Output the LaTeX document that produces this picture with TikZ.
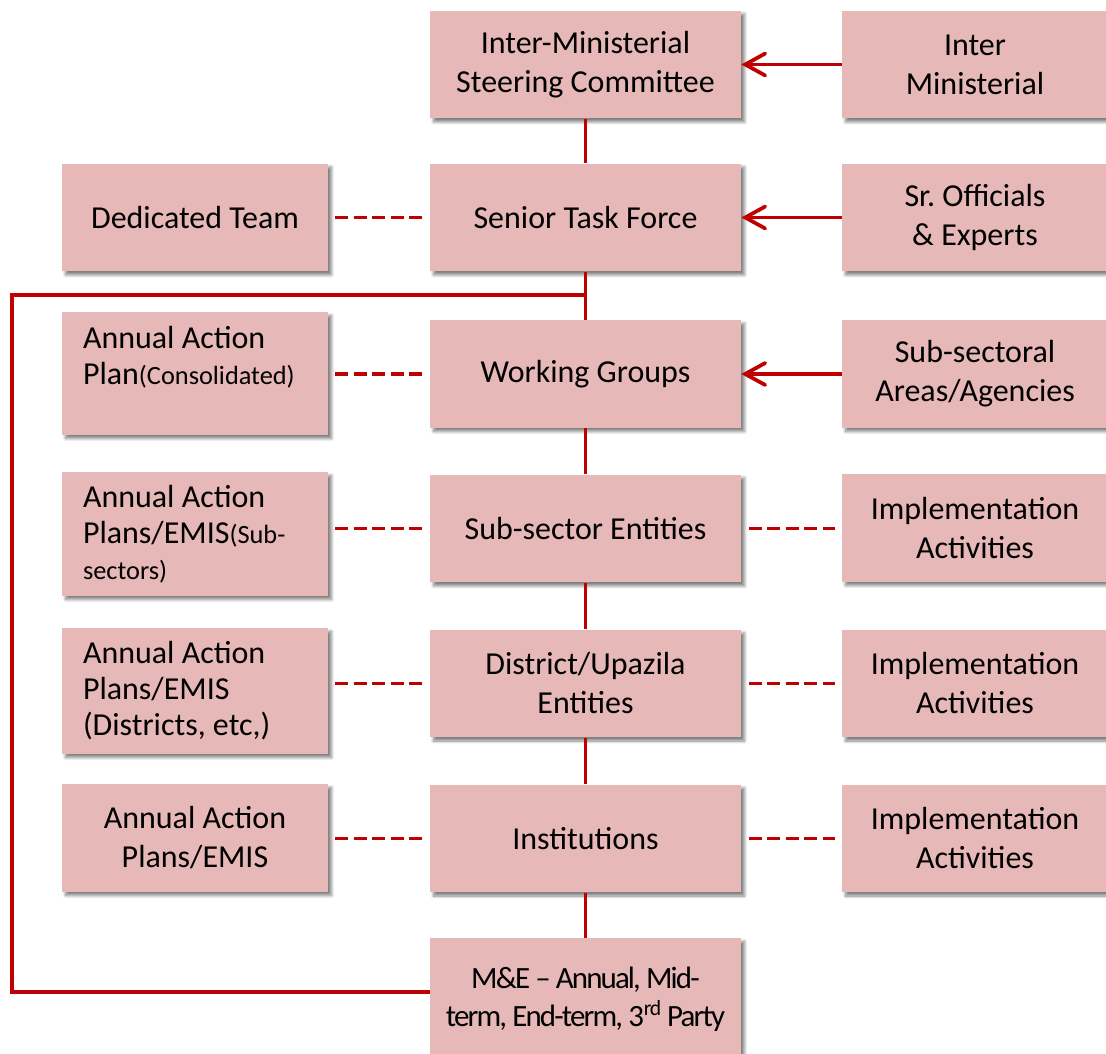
\documentclass[tikz,border=0pt]{standalone}
\usepackage{fontspec}
\setmainfont{Carlito}
\usetikzlibrary{arrows.meta,shadows.blur}
\definecolor{boxpink}{HTML}{E6B8B7}
\definecolor{linkred}{HTML}{C00000}
\newcommand{\bigtxt}{\fontsize{18.2}{22.2}\selectfont}
\newcommand{\plantxt}{\fontsize{18.2}{20.5}\selectfont}
\newcommand{\smalltxt}{\fontsize{15}{20.5}\selectfont}
\newcommand{\metxt}{\fontsize{17.6}{21.6}\selectfont\addfontfeature{LetterSpace=-6}}

\begin{document}
\begin{tikzpicture}[
    x=0.02cm, y=-0.02cm,
    box/.style={fill=boxpink, inner sep=0pt, align=center, font=\bigtxt,
      blur shadow={shadow xshift=0.07cm, shadow yshift=-0.07cm,
        shadow blur radius=0.06cm, shadow blur steps=6, shadow opacity=50}},
    mid/.style={box, minimum width=6.22cm, minimum height=2.16cm},
    side/.style={box, minimum width=5.32cm, minimum height=2.16cm},
    plan/.style={box, text width=4.48cm, inner xsep=0.42cm, align=flush left, font=\plantxt},
    link/.style={draw=linkred, line width=0.075cm},
    dashlink/.style={link, dash pattern=on 0.26cm off 0.11cm,
      shorten <=0.15cm, shorten >=0.14cm},
    feed/.style={link, -{Straight Barb[length=0.4cm, width=0.44cm, line cap=round]}},
    ]
    \useasboundingbox (0,0) rectangle (1106,1054);
    % centre column
    \node[mid] (imsc) at (585.5,64.5) {Inter-Ministerial\\Steering Committee};
    \node[mid] (stf) at (585.5,217.5) {Senior Task Force};
    \node[mid] (wg) at (585.5,374) {Working Groups};
    \node[mid] (sse) at (585.5,528.5) {Sub-sector Entities};
    \node[mid] (due) at (585.5,683.5) {District/Upazila\\Entities};
    \node[mid] (inst) at (585.5,838.5) {Institutions};
    \node[mid, minimum height=2.44cm, font=\metxt] (mne) at (585.5,999)
      {M\&E -- Annual, Mid-\\term, End-term, 3\textsuperscript{rd} Party};
    % right column
    \node[side] (imin) at (975,64.5) {Inter\\Ministerial};
    \node[side] (soe) at (975,217.5) {Sr.\ Officials\\\& Experts};
    \node[side] (ssa) at (975,374) {Sub-sectoral\\Areas/Agencies};
    \node[side] (ia1) at (975,528) {Implementation\\Activities};
    \node[side] (ia2) at (975,683.5) {Implementation\\Activities};
    \node[side] (ia3) at (975,838.5) {Implementation\\Activities};
    % left column
    \node[side] (dt) at (195,217.5) {Dedicated Team};
    \node[plan, minimum height=2.46cm] (aap1) at (195,373.5)
      {Annual Action\\Plan{\smalltxt(Consolidated)}\\\mbox{}};
    \node[plan, minimum height=2.48cm] (aap2) at (195,534)
      {Annual Action\\Plans/EMIS{\smalltxt(Sub-}\\{\smalltxt sectors)}};
    \node[plan, minimum height=2.52cm] (aap3) at (195,691)
      {Annual Action\\Plans/EMIS\\(Districts, etc,)};
    \node[side] (aap4) at (195,838) {Annual Action\\Plans/EMIS};

    % spine
    \draw[link] (imsc.south) -- (stf.north);
    \draw[link] (stf.south) -- (wg.north);
    \draw[link] (wg.south) -- (sse.north);
    \draw[link] (sse.south) -- (due.north);
    \draw[link] (due.south) -- (inst.north);
    \draw[link] (inst.south) -- (mne.north);
    % feedback loop
    \coordinate (jn) at (585.5,295);
    \coordinate (lc) at (12,295);
    \coordinate (lb) at (12,992);
    \draw[link] (jn) -- (lc) -- (lb) -- (lb -| mne.west);
    % inputs
    \draw[feed] (imin.west) -- (imsc.east);
    \draw[feed] (soe.west) -- (stf.east);
    \draw[feed] (ssa.west) -- (wg.east);
    % dashed links
    \draw[dashlink] (stf.west) -- (stf.west -| dt.east);
    \draw[dashlink] (wg.west) -- (wg.west -| aap1.east);
    \draw[dashlink] (sse.west) -- (sse.west -| aap2.east);
    \draw[dashlink] (due.west) -- (due.west -| aap3.east);
    \draw[dashlink] (inst.west) -- (inst.west -| aap4.east);
    \draw[dashlink] (sse.east) -- (sse.east -| ia1.west);
    \draw[dashlink] (due.east) -- (due.east -| ia2.west);
    \draw[dashlink] (inst.east) -- (inst.east -| ia3.west);
\end{tikzpicture}
\end{document}
